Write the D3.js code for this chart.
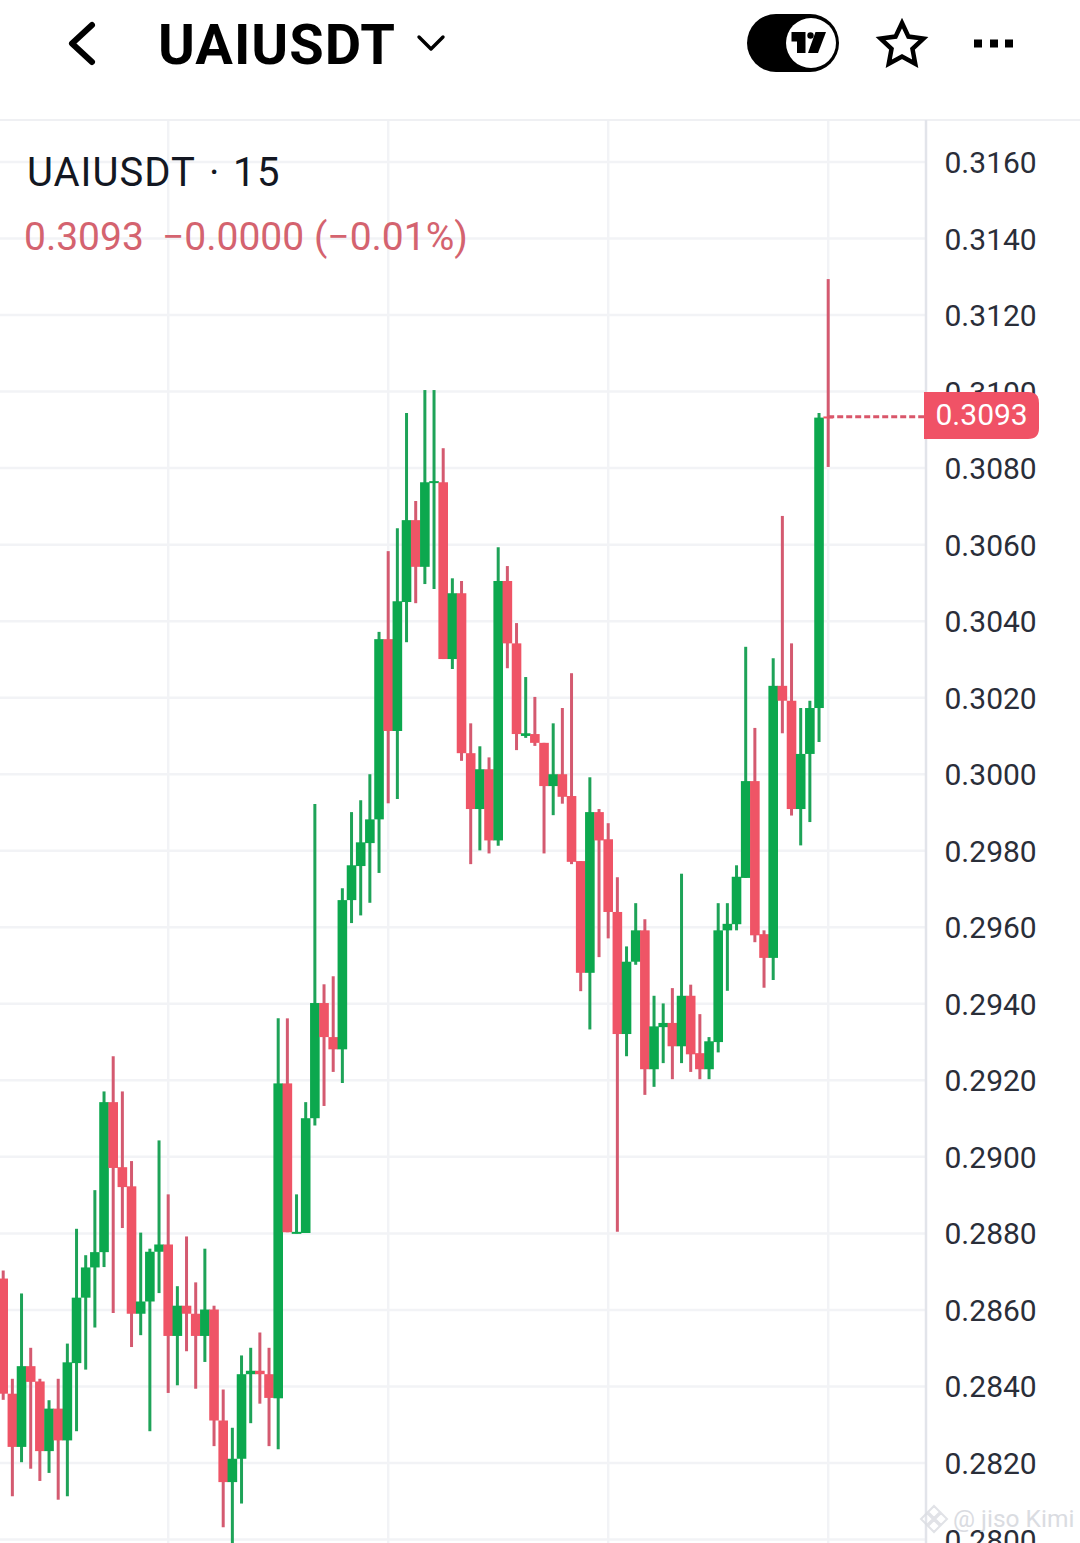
<!DOCTYPE html>
<html>
<head>
<meta charset="utf-8">
<script src="https://cdnjs.cloudflare.com/ajax/libs/d3/7.8.5/d3.min.js"></script>
<style>
html,body{margin:0;padding:0;background:#fff;overflow:hidden}
svg{display:block}
text{font-family:Roboto,sans-serif}
</style>
</head>
<body>
<svg id="c" width="1080" height="1543"></svg>
<script>
const symbol = "UAIUSDT";
const interval = "15";
const lastPrice = 0.3093;
const lastChange = "\u22120.0000";
const lastPct = "(\u22120.01%)";
const priceTicks = [0.316,0.314,0.312,0.310,0.308,0.306,0.304,0.302,0.300,0.298,0.296,0.294,0.292,0.290,0.288,0.286,0.284,0.282,0.280];
const timeGridIndex = [18,42,66,90];

const opens = [.28682,.28381,.28242,.28453,.28413,.28231,.28342,.28259,.28461,.28632,.28711,.28751,.29143,.28973,.28923,.28590,.28622,.28752,.28771,.28532,
.28611,.28590,.28532,.28601,.28311,.28150,.28211,.28432,.28441,.28432,.28369,.29192,.28800,.28801,.29101,.29402,.29313,.29281,.29671,.29760,
.29820,.29882,.30353,.30113,.30450,.30664,.30542,.30761,.30763,.30301,.30473,.30055,.29909,.30013,.29827,.30505,.30342,.30100,.30105,.30082,
.29969,.30000,.29943,.29773,.29481,.29901,.29830,.29640,.29321,.29510,.29592,.29229,.29339,.29350,.29289,.29421,.29271,.29229,.29300,.29592,
.29608,.29729,.29982,.29582,.29520,.30231,.30192,.29909,.30053,.30173,.30935];
const closes = [.28381,.28242,.28453,.28412,.28231,.28342,.28259,.28463,.28632,.28711,.28751,.29143,.28971,.28921,.28590,.28622,.28752,.28771,.28532,.28611,
.28590,.28532,.28601,.28311,.28150,.28211,.28432,.28441,.28432,.28370,.29192,.28803,.28804,.29101,.29402,.29313,.29281,.29671,.29762,.29822,
.29882,.30353,.30113,.30452,.30664,.30542,.30763,.30766,.30301,.30473,.30055,.29909,.30013,.29827,.30505,.30342,.30105,.30107,.30082,.29969,
.30000,.29941,.29771,.29481,.29901,.29827,.29640,.29321,.29510,.29592,.29229,.29341,.29350,.29289,.29421,.29268,.29229,.29302,.29592,.29609,
.29732,.29982,.29579,.29520,.30231,.30192,.29909,.30053,.30173,.30932,.30931];
const highs = [.28703,.28420,.28643,.28501,.28420,.28364,.28420,.28512,.28812,.28743,.28913,.29171,.29263,.29171,.28989,.28802,.28760,.29043,.28902,.28662,
.28792,.28672,.28760,.28611,.28392,.28292,.28481,.28501,.28541,.28501,.29362,.29362,.28902,.29143,.29922,.29451,.29472,.29702,.29901,.29932,
.30000,.30372,.30583,.30643,.30944,.30714,.31004,.31004,.30852,.30512,.30505,.30133,.30073,.30044,.30593,.30544,.30395,.30254,.30202,.30082,
.30133,.30173,.30264,.29773,.29992,.29909,.29872,.29731,.29550,.29663,.29621,.29421,.29401,.29441,.29740,.29450,.29373,.29313,.29663,.29663,
.29762,.30333,.30121,.29592,.30303,.30675,.30342,.30173,.30192,.30944,.31294];
const lows = [.28365,.28113,.28202,.28185,.28153,.28174,.28104,.28113,.28283,.28444,.28554,.28712,.28592,.28814,.28503,.28534,.28283,.28644,.28383,.28403,
.28492,.28394,.28464,.28244,.28032,.27985,.28094,.28304,.28355,.28244,.28236,.28803,.28800,.28801,.29082,.29133,.29222,.29193,.29611,.29631,
.29664,.29742,.29924,.29935,.30345,.30447,.30497,.30484,.30301,.30275,.30035,.29765,.29801,.29793,.29813,.30277,.30063,.30095,.30074,.29793,
.29893,.29923,.29765,.29433,.29333,.29522,.29571,.28804,.29263,.29502,.29162,.29183,.29245,.29203,.29245,.29222,.29203,.29203,.29273,.29434,
.29592,.29729,.29561,.29442,.29462,.30107,.29892,.29814,.29875,.30084,.30803];

const W = 1080, H = 1543, axisX = 926, plotTop = 120;
const UP = "#0ca84e", DOWN = "#ef5466", UPW = "#1ea358", DOWNW = "#d45a70", GRID = "#f2f3f6";

const svg = d3.select("#c");
const x = d3.scaleLinear().domain([0,90]).range([3.2,828.2]);
const y = d3.scaleLinear().domain([0.28,0.316]).range([1539.5,162]);
svg.append("rect").attr("width",W).attr("height",H).attr("fill","#fff");

const gridG = svg.append("g");
gridG.selectAll("line.h").data(priceTicks).join("line").attr("class","h")
  .attr("x1",0).attr("x2",axisX).attr("y1",d=>y(d)).attr("y2",d=>y(d))
  .attr("stroke",GRID).attr("stroke-width",2.5);
gridG.selectAll("line.v").data(timeGridIndex).join("line").attr("class","v")
  .attr("x1",d=>x(d)).attr("x2",d=>x(d)).attr("y1",plotTop).attr("y2",H)
  .attr("stroke",GRID).attr("stroke-width",2.5);
svg.append("line").attr("x1",0).attr("x2",W).attr("y1",plotTop).attr("y2",plotTop)
  .attr("stroke","#eff0f3").attr("stroke-width",2);

// axis
const axis = d3.axisRight(y).tickValues(priceTicks).tickFormat(d3.format(".4f")).tickSize(0).tickPadding(0);
const axisG = svg.append("g").attr("transform",`translate(${axisX+18.5},0)`).call(axis);
axisG.select(".domain").remove();
axisG.selectAll("text").attr("x",0).attr("dy",".35em").attr("fill","#2a2e39")
  .style("font-size","30px").style("font-family","Roboto, sans-serif");
svg.append("line").attr("x1",axisX).attr("x2",axisX).attr("y1",plotTop).attr("y2",H)
  .attr("stroke","#e2e4ea").attr("stroke-width",2.5);

// candles
const candles = opens.map((o,i)=>({i,o,c:closes[i],h:highs[i],l:lows[i]}));
const bw = 9.6, ww = 3;
const g = svg.append("g");
const cg = g.selectAll("g").data(candles).join("g");
cg.append("line").attr("x1",d=>x(d.i)).attr("x2",d=>x(d.i))
  .attr("y1",d=>y(d.h)).attr("y2",d=>y(d.l))
  .attr("stroke",d=>d.c>=d.o?UPW:DOWNW).attr("stroke-width",ww);
cg.append("rect").attr("x",d=>x(d.i)-bw/2).attr("width",bw)
  .attr("y",d=>y(Math.max(d.o,d.c)))
  .attr("height",d=>Math.max(2,Math.abs(y(d.o)-y(d.c))))
  .attr("fill",d=>d.c>=d.o?UP:DOWN);

// last price line + label
svg.append("line").attr("x1",x(90)).attr("x2",axisX-2).attr("y1",y(lastPrice)-1.5).attr("y2",y(lastPrice)-1.5)
  .attr("stroke","#d9566a").attr("stroke-width",3).attr("stroke-dasharray","6 3");
const py = 392, ph = 47, px = 924, pw = 115, r = 11;
svg.append("path").attr("fill","#f05266")
  .attr("d",`M${px},${py}H${px+pw-r}Q${px+pw},${py} ${px+pw},${py+r}V${py+ph-r}Q${px+pw},${py+ph} ${px+pw-r},${py+ph}H${px}Z`);
svg.append("text").attr("x",px+11.5).attr("y",py+33).attr("fill","#fff")
  .style("font-size","30px").text(d3.format(".4f")(lastPrice));

// legend
svg.append("text").attr("x",27).attr("y",186).attr("fill","#131722")
  .style("font-size","40px").attr("letter-spacing","1").text(symbol);
svg.append("text").attr("x",209).attr("y",186).attr("fill","#131722")
  .style("font-size","40px").text("\u00b7");
svg.append("text").attr("x",233).attr("y",186).attr("fill","#131722")
  .style("font-size","40px").attr("letter-spacing","1.5").text(interval);
const lc = "#d4636f";
svg.append("text").attr("x",24).attr("y",250).attr("fill",lc).style("font-size","39px").text(d3.format(".4f")(lastPrice));
svg.append("text").attr("x",162).attr("y",250).attr("fill",lc).style("font-size","39px").text(lastChange);
svg.append("text").attr("x",314).attr("y",250).attr("fill",lc).style("font-size","39px").text(lastPct);

// header
svg.append("text").attr("x",158).attr("y",64).attr("fill","#000")
  .style("font-size","56px").style("font-weight","700").attr("letter-spacing","1").text(symbol);
svg.append("path").attr("d","M92,25L72,43.5L92,62").attr("fill","none").attr("stroke","#000")
  .attr("stroke-width",6).attr("stroke-linecap","round").attr("stroke-linejoin","round");
svg.append("path").attr("d","M419,37L431,49L443,37").attr("fill","none").attr("stroke","#000")
  .attr("stroke-width",3.4).attr("stroke-linecap","round").attr("stroke-linejoin","round");

// toggle
svg.append("rect").attr("x",747).attr("y",14).attr("width",92).attr("height",58).attr("rx",29).attr("fill","#000");
svg.append("circle").attr("cx",811).attr("cy",43).attr("r",25).attr("fill","#fff");
svg.append("path").attr("fill","#000").attr("d","M791.5,32H805.5V53H797V41.5H791.5Z");
svg.append("circle").attr("cx",810.5).attr("cy",35.5).attr("r",3.2).attr("fill","#000");
svg.append("path").attr("fill","#000").attr("d","M815.5,32H826L818,53H808Z");

// star
const starPts = d3.range(10).map(k=>{
  const R = k%2===0 ? 22.5 : 11, a = -Math.PI/2 + k*Math.PI/5;
  return [902+R*Math.cos(a), 45.5+R*Math.sin(a)];
});
svg.append("path").attr("d",d3.line()(starPts)+"Z").attr("fill","none").attr("stroke","#000")
  .attr("stroke-width",4.5).attr("stroke-linejoin","miter");

// dots
svg.selectAll("rect.dot").data([978,994,1009]).join("rect").attr("class","dot")
  .attr("x",d=>d-4).attr("y",39.5).attr("width",8).attr("height",8).attr("fill","#000");

// watermark
const wm = svg.append("g").attr("opacity",0.85);
wm.append("text").attr("x",953).attr("y",1527).attr("fill","#d4d6dc")
  .style("font-size","24.5px").text("@ jiso Kimi");
wm.append("path").attr("transform","translate(934,1518)")
  .attr("d","M0,-12L6,-6L0,0L-6,-6ZM-7,-5L-1,1L-7,7L-13,1ZM7,-5L13,1L7,7L1,1ZM0,2L6,8L0,14L-6,8Z")
  .attr("fill","none").attr("stroke","#dcdee3").attr("stroke-width",2);
</script>
</body>
</html>
